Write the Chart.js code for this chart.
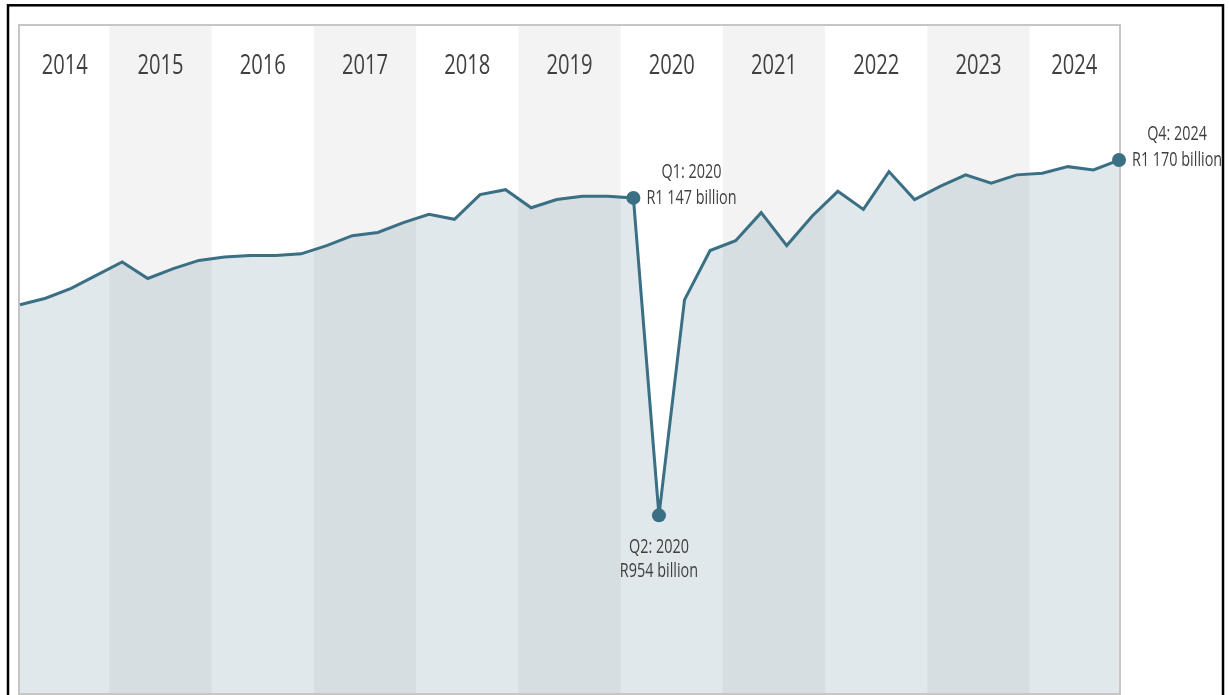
<!DOCTYPE html>
<html>
<head>
<meta charset="utf-8">
<style>
  html, body { margin: 0; padding: 0; background: #ffffff; overflow: hidden; }
  canvas { display: block; }
</style>
<script src="https://cdn.jsdelivr.net/npm/chart.js@4/dist/chart.umd.min.js"></script>
</head>
<body>
<canvas id="gdpChart" width="1229" height="695"></canvas>
<script>
// Calendar years shown as shaded bands across the top of the plot
const years = ['2014', '2015', '2016', '2017', '2018', '2019', '2020', '2021', '2022', '2023', '2024'];
const quarterNames = ['Q1', 'Q2', 'Q3', 'Q4'];

// One category per quarter, Q1 2014 .. Q4 2024
const quarters = [];
years.forEach(y => quarterNames.forEach(q => quarters.push(q + ': ' + y)));

// Real GDP per quarter, R billion
const gdp = [
  1082, 1086, 1092, 1100,   // 2014
  1108, 1098, 1104, 1109,   // 2015
  1111, 1112, 1112, 1113,   // 2016
  1118, 1124, 1126, 1132,   // 2017
  1137, 1134, 1149, 1152,   // 2018
  1141, 1146, 1148, 1148,   // 2019
  1147,  954, 1085, 1115,   // 2020
  1121, 1138, 1118, 1136,   // 2021
  1151, 1140, 1163, 1146,   // 2022
  1154, 1161, 1156, 1161,   // 2023
  1162, 1166, 1164, 1170    // 2024
];

// Quarters that get a marker and a value callout
const callouts = ['Q1: 2020', 'Q2: 2020', 'Q4: 2024'];

const LINE = '#3a6f84';
const TEXT = '#404040';
const FONT_FAMILY = '"Open Sans", "Noto Sans", sans-serif';
const SQUEEZE = 0.72;   // narrow lettering

function formatRand(v) {
  const s = String(Math.round(v));
  return 'R' + s.replace(/\B(?=(\d{3})+(?!\d))/g, ' ') + ' billion';
}

function narrowText(ctx, text, x, y, size, align) {
  ctx.save();
  ctx.translate(x, y);
  ctx.scale(SQUEEZE, 1);
  ctx.font = size + 'px ' + FONT_FAMILY;
  ctx.textAlign = align;
  ctx.textBaseline = 'alphabetic';
  ctx.fillStyle = TEXT;
  ctx.fillText(text, 0, 0);
  ctx.restore();
}

function narrowWidth(ctx, text, size) {
  ctx.save();
  ctx.font = size + 'px ' + FONT_FAMILY;
  const w = ctx.measureText(text).width * SQUEEZE;
  ctx.restore();
  return w;
}

const pointRadii = quarters.map(q => callouts.includes(q) ? 7 : 0);

// Alternating year bands, plot frame, headings and callouts
const yearBands = {
  id: 'yearBands',
  beforeDraw(chart) {
    const { ctx, chartArea: a, scales: { x } } = chart;
    ctx.save();
    years.forEach((y, i) => {
      if (i % 2 === 1) {
        const l = Math.max(a.left, x.getPixelForValue(i * 4 - 0.5));
        const r = Math.min(a.right, x.getPixelForValue(i * 4 + 3.5));
        ctx.fillStyle = '#f3f3f3';
        ctx.fillRect(l, a.top, r - l, a.bottom - a.top);
      }
    });
    ctx.strokeStyle = '#c6c6c6';
    ctx.lineWidth = 2;
    ctx.strokeRect(a.left - 1, a.top - 1, a.right - a.left + 2, a.bottom - a.top + 2);
    ctx.restore();
  },
  afterDatasetsDraw(chart) {
    const { ctx, chartArea: a, scales: { x, y } } = chart;
    // Year headings centred in their visible band
    years.forEach((yr, i) => {
      const l = Math.max(a.left, x.getPixelForValue(i * 4 - 0.5));
      const r = Math.min(a.right, x.getPixelForValue(i * 4 + 3.5));
      narrowText(ctx, yr, (l + r) / 2, 74, 28, 'center');
    });

    // Value callouts
    ctx.save();
    ctx.beginPath();
    ctx.rect(9, 6, 1213, 700);
    ctx.clip();
    const low = Math.min(...gdp);
    callouts.forEach(q => {
      const i = quarters.indexOf(q);
      const v = gdp[i];
      const px = x.getPixelForValue(i);
      const py = y.getPixelForValue(v);
      const l1 = q, l2 = formatRand(v);
      if (v === low) {
        narrowText(ctx, l1, px, py + 38, 20, 'center');
        narrowText(ctx, l2, px, py + 62, 20, 'center');
      } else {
        const w = Math.max(narrowWidth(ctx, l1, 20), narrowWidth(ctx, l2, 20));
        const cx = px + 13 + w / 2;
        narrowText(ctx, l1, cx, py - 20, 20, 'center');
        narrowText(ctx, l2, cx, py + 6, 20, 'center');
      }
    });
    ctx.restore();
  },
  afterDraw(chart) {
    const { ctx } = chart;
    ctx.save();
    ctx.strokeStyle = '#000000';
    ctx.lineWidth = 2.5;
    ctx.strokeRect(8, 5.3, 1215, 760);
    ctx.restore();
  }
};

new Chart(document.getElementById('gdpChart'), {
  type: 'line',
  data: {
    labels: quarters,
    datasets: [{
      data: gdp,
      borderColor: LINE,
      borderWidth: 3,
      backgroundColor: 'rgba(60,110,130,0.16)',
      fill: 'start',
      tension: 0,
      pointRadius: pointRadii,
      pointHoverRadius: pointRadii,
      pointBackgroundColor: LINE,
      pointBorderWidth: 0,
      clip: false
    }]
  },
  options: {
    responsive: false,
    animation: false,
    events: [],
    layout: { autoPadding: false, padding: { left: 20, top: 26, right: 110, bottom: 2 } },
    plugins: { legend: { display: false }, tooltip: { enabled: false } },
    scales: {
      x: { type: 'category', display: false, offset: false },
      y: { type: 'linear', display: false, min: 846, max: 1251.5 }
    }
  },
  plugins: [yearBands]
});
</script>
</body>
</html>
